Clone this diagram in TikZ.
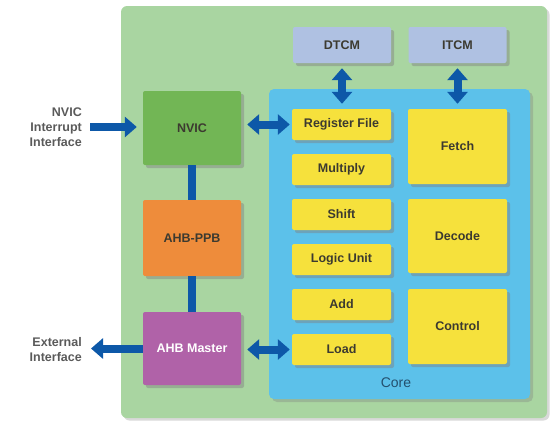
\documentclass[tikz,border=0pt]{standalone}
\usepackage{fontspec}
\setmainfont{Liberation Sans}
\usepackage{xcolor}
\usetikzlibrary{arrows.meta,shadows}

\definecolor{chipgreen}{HTML}{A9D5A1}
\definecolor{nvicgreen}{HTML}{72B655}
\definecolor{ppborange}{HTML}{EE8C3B}
\definecolor{masterpurple}{HTML}{B062A8}
\definecolor{coreblue}{HTML}{5CC1EA}
\definecolor{unityellow}{HTML}{F6E13C}
\definecolor{memblue}{HTML}{AFC1E2}
\definecolor{busblue}{HTML}{0D58A8}
\definecolor{boxtext}{HTML}{3C3A30}
\definecolor{labelgray}{HTML}{5A5A5A}
\definecolor{coretext}{HTML}{24506E}

\begin{document}
\begin{tikzpicture}[x=1pt,y=-1pt]
\tikzstyle{box} = [rectangle, rounded corners=2pt, inner sep=0pt, text=boxtext,
	font=\bfseries\fontsize{12.5}{14}\selectfont,
	drop shadow={shadow xshift=3pt, shadow yshift=-3pt, opacity=0.45}]
\tikzstyle{unit} = [box, fill=unityellow, minimum width=99pt, minimum height=31pt]
\tikzstyle{stage} = [box, fill=unityellow, minimum width=99pt, minimum height=75pt]
\tikzstyle{mem} = [box, fill=memblue, minimum width=98pt, minimum height=36pt]
\tikzstyle{side} = [box, minimum width=98pt, minimum height=74pt]
\tikzstyle{outer} = [align=right, anchor=east, text=labelgray, inner sep=0pt,
	font=\bfseries\fontsize{12.5}{15}\selectfont]
\tikzstyle{bus} = [draw=busblue, line width=8pt]
\tikzstyle{tip} = [bus, -{Triangle[width=20pt,length=12pt]}]
\tikzstyle{both} = [bus, {Triangle[width=20pt,length=12pt]}-{Triangle[width=20pt,length=12pt]}]
%
\useasboundingbox (0,0) rectangle (554,424);

	% chip and core
	\node[rectangle, rounded corners=6pt, fill=chipgreen, minimum width=426pt, minimum height=412pt,
		drop shadow={shadow xshift=2.5pt, shadow yshift=-2.5pt, opacity=0.3}] (chip) at (334,212) {};
	\node[rectangle, rounded corners=5pt, fill=coreblue, minimum width=261pt, minimum height=310pt,
		drop shadow={shadow xshift=3pt, shadow yshift=-3pt, opacity=0.35}] (core) at (399.5,244) {};
	\node[text=coretext, font=\fontsize{14}{16}\selectfont] (corelbl) at (396,383) {Core};

	% memories
	\node[mem] (dtcm) at (342,45) {DTCM};
	\node[mem] (itcm) at (457.5,45) {ITCM};

	% left column
	\node[side, fill=nvicgreen] (nvic) at (192,128) {NVIC};
	\node[side, fill=ppborange, minimum height=76pt] (ppb) at (192,238) {AHB-PPB};
	\node[side, fill=masterpurple, text=white, minimum height=73pt] (master) at (192,348.5) {AHB Master};

	% units
	\node[unit] (regfile) at (341.5,124.5) {Register File};
	\node[unit] (mult) at (341.5,169.5) {Multiply};
	\node[unit] (shift) at (341.5,214.5) {Shift};
	\node[unit] (logic) at (341.5,259.5) {Logic Unit};
	\node[unit] (add) at (341.5,304.5) {Add};
	\node[unit] (load) at (341.5,349.5) {Load};

	% pipeline
	\node[stage] (fetch) at (457.5,146.5) {Fetch};
	\node[stage, minimum height=74pt] (decode) at (457.5,236) {Decode};
	\node[stage] (control) at (457.5,326.5) {Control};

	% outside
	\node[outer] (irqlbl) at (82,127) {NVIC\\Interrupt\\Interface};
	\node[outer] (extlbl) at (82,349.5) {External\\Interface};

	% buses
	\draw[tip, shorten <=8pt, shorten >=6pt] (irqlbl.east) -- (irqlbl.east -| nvic.west);
	\draw[tip, shorten <=0pt, shorten >=9pt] (master.west) -- (master.west -| extlbl.east);
	\draw[both, shorten <=6pt, shorten >=2pt] (regfile.west -| nvic.east) -- (regfile.west);
	\draw[both, shorten <=6pt, shorten >=2pt] (load.west -| master.east) -- (load.west);
	\draw[both, shorten <=5pt, shorten >=5pt] (dtcm.south) -- (dtcm.south |- regfile.north);
	\draw[both, shorten <=5pt, shorten >=5pt] (itcm.south) -- (itcm.south |- fetch.north);
	\draw[bus] (nvic.south) -- (ppb.north);
	\draw[bus] (ppb.south) -- (master.north);
\end{tikzpicture}
\end{document}
